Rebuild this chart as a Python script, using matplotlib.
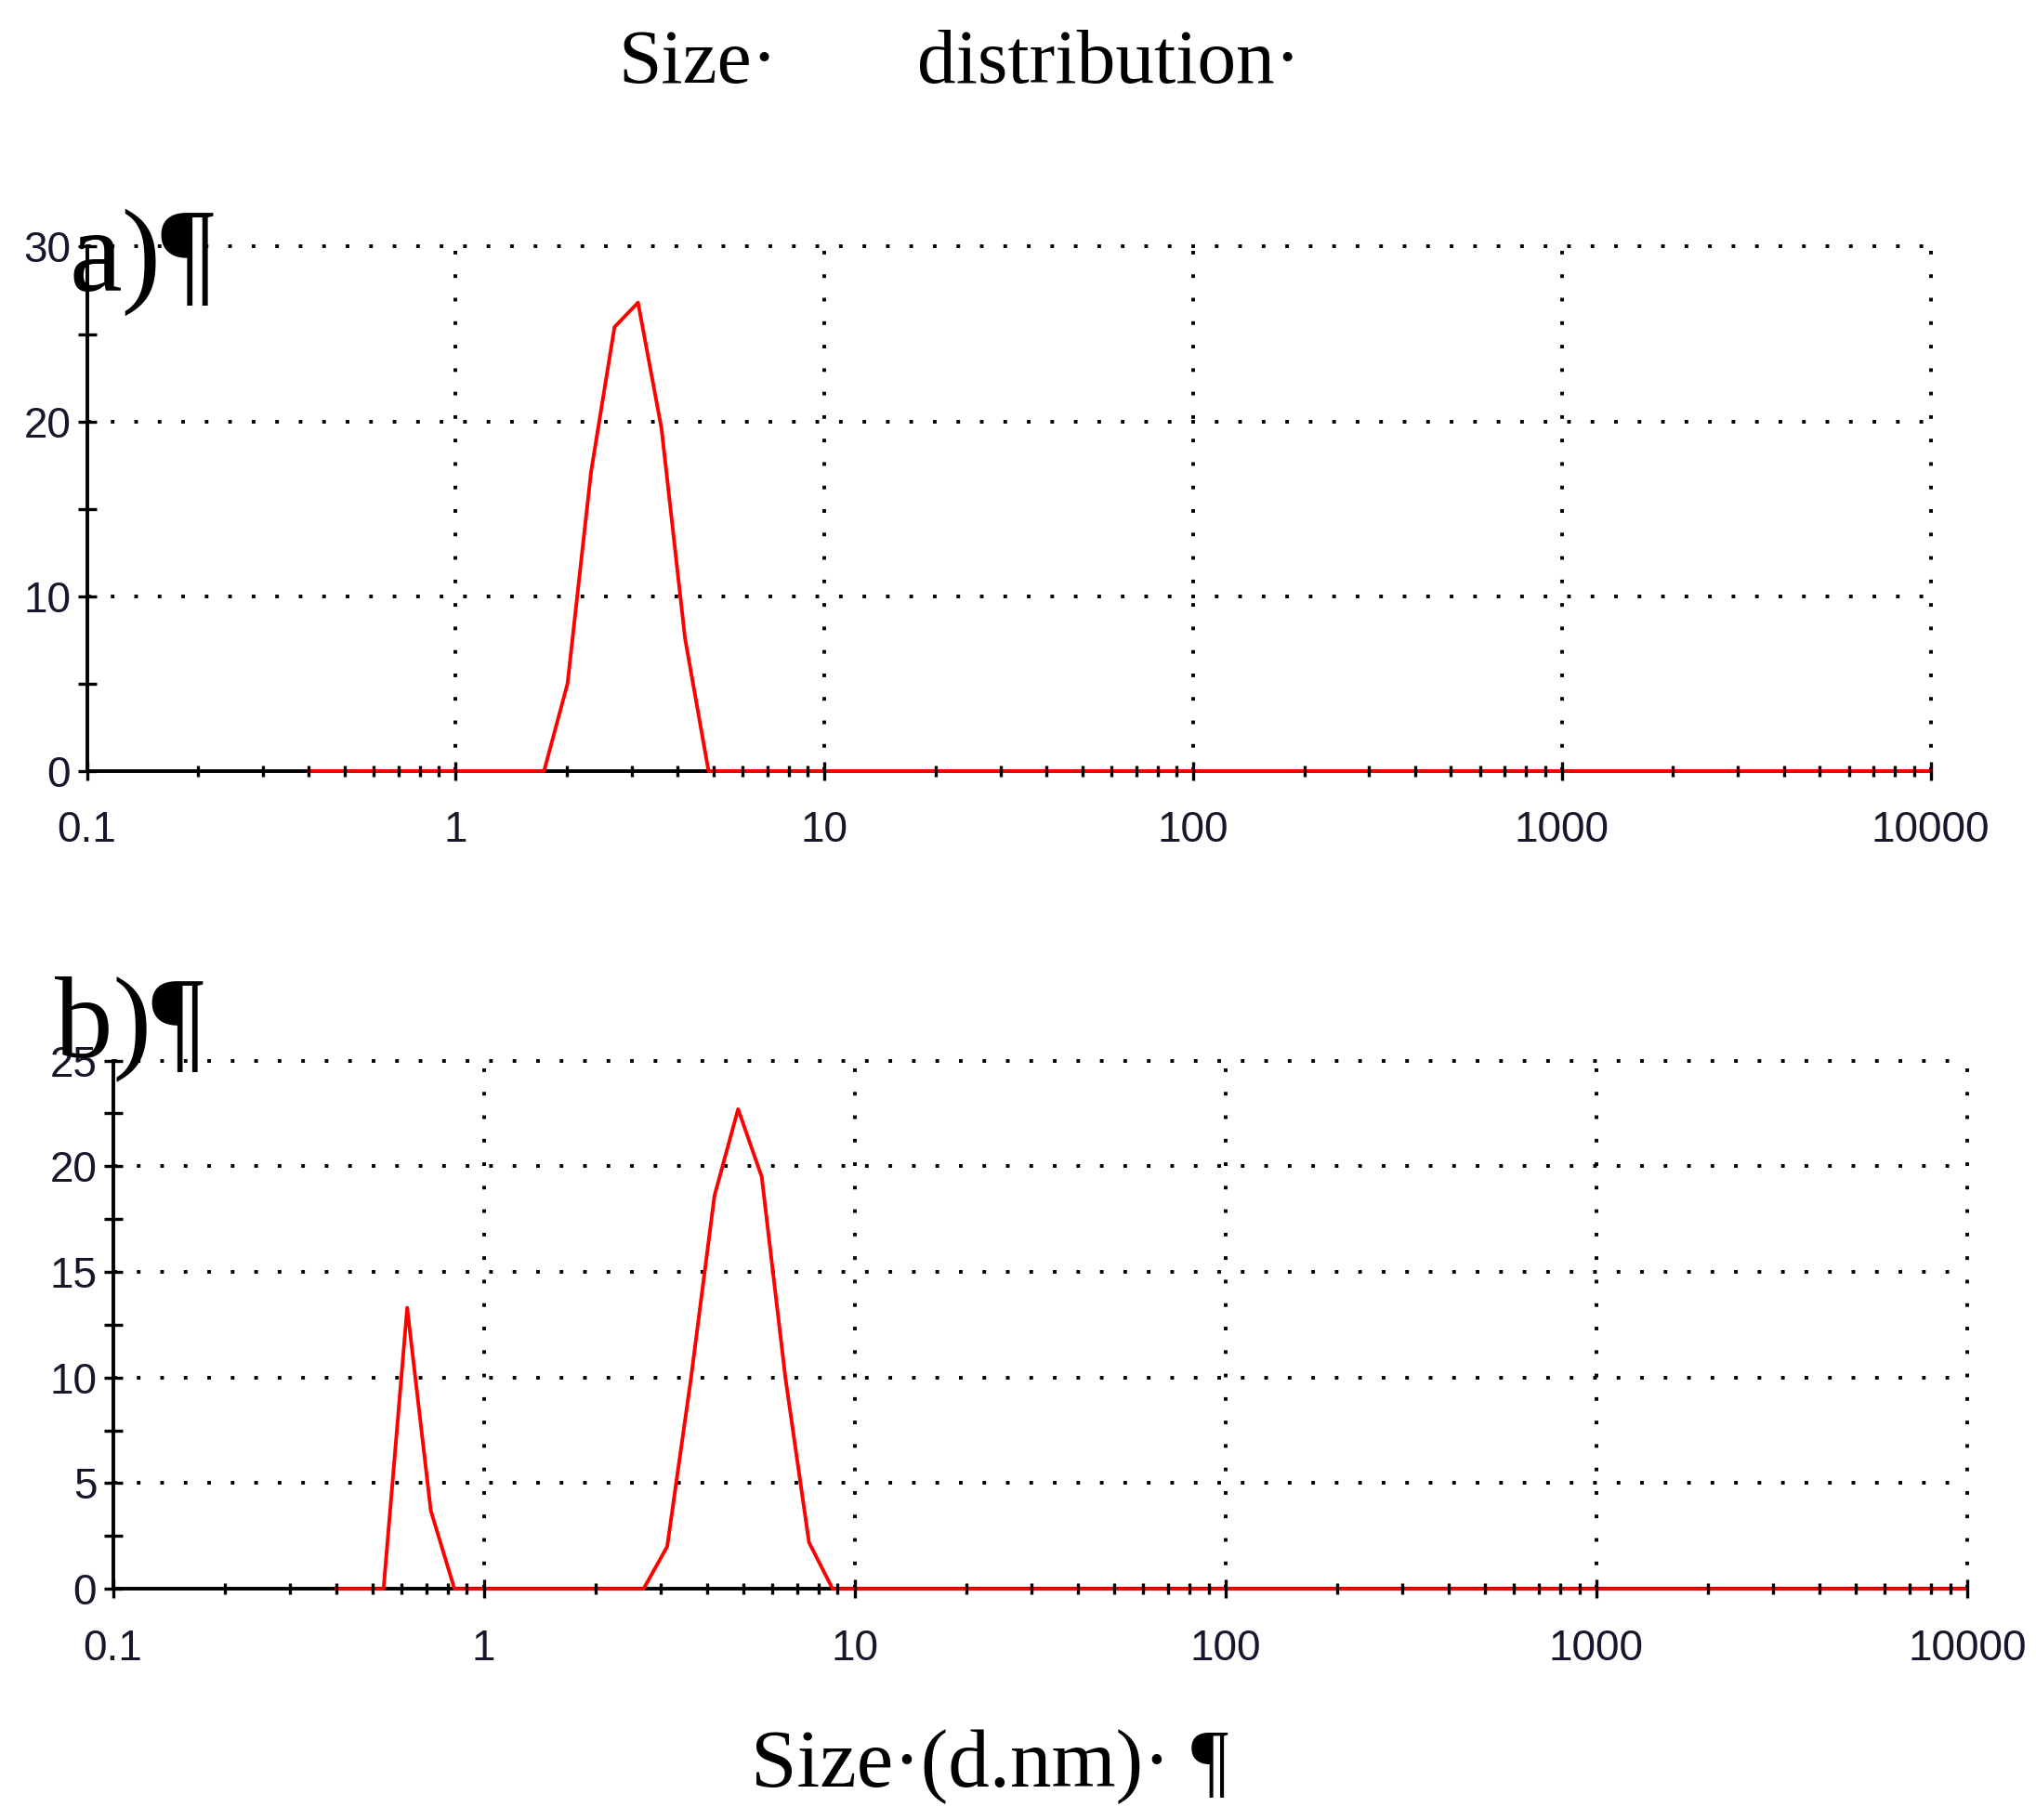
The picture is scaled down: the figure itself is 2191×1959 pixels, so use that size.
import matplotlib
matplotlib.use("Agg")
import matplotlib.pyplot as plt
from matplotlib.ticker import (FixedLocator, FixedFormatter, LogLocator,
                               MultipleLocator, NullFormatter)

# ---- data (Malvern size bins, d.nm) ----
sizes_nm = [0.4000, 0.4632, 0.5365, 0.6213, 0.7195, 0.8332, 0.9649, 1.117, 1.295, 1.499,
            1.736, 2.010, 2.328, 2.696, 3.122, 3.615, 4.187, 4.849, 5.615, 6.503,
            7.531, 8.721, 10.10, 11.70, 13.54, 15.69, 18.17, 21.04, 24.36, 28.21,
            32.67, 37.84, 43.82, 50.75, 58.77, 68.06, 78.82, 91.28, 105.7, 122.4,
            141.8, 164.2, 190.1, 220.2, 255.0, 295.3, 342.0, 396.1, 458.7, 531.2,
            615.1, 712.4, 825.0, 955.4, 1106, 1281, 1484, 1718, 1990, 2305,
            2669, 3091, 3580, 4145, 4801, 5560, 6439, 7456, 8635, 10000]

intensity_a = [0, 0, 0, 0, 0, 0, 0, 0, 0, 0,
               0, 5.0, 17.1, 25.4, 26.8, 19.6, 7.6, 0, 0, 0,
               0, 0, 0, 0, 0, 0, 0, 0, 0, 0,
               0, 0, 0, 0, 0, 0, 0, 0, 0, 0,
               0, 0, 0, 0, 0, 0, 0, 0, 0, 0,
               0, 0, 0, 0, 0, 0, 0, 0, 0, 0,
               0, 0, 0, 0, 0, 0, 0, 0, 0, 0]

intensity_b = [0, 0, 0, 13.3, 3.7, 0, 0, 0, 0, 0,
               0, 0, 0, 0, 2.0, 9.9, 18.6, 22.7, 19.5, 10.0,
               2.2, 0, 0, 0, 0, 0, 0, 0, 0, 0,
               0, 0, 0, 0, 0, 0, 0, 0, 0, 0,
               0, 0, 0, 0, 0, 0, 0, 0, 0, 0,
               0, 0, 0, 0, 0, 0, 0, 0, 0, 0,
               0, 0, 0, 0, 0, 0, 0, 0, 0, 0]

x_tick_values = [0.1, 1, 10, 100, 1000, 10000]
x_tick_labels = ["0.1", "1", "10", "100", "1000", "10000"]
y_ticks_a = [0, 10, 20, 30]
y_ticks_b = [0, 5, 10, 15, 20, 25]

TICK_FONT = ["Liberation Sans Narrow", "Liberation Sans", "DejaVu Sans"]
SERIF = ["Liberation Serif", "DejaVu Serif"]
LABEL_COLOR = "#16162c"
GRID_LS = (0, (1, 5.5))

fig = plt.figure(figsize=(21.91, 19.59), dpi=100)


def make_panel(rect, values, yticks, yminor):
    ax = fig.add_axes(rect)
    ax.set_xscale("log")
    ax.set_xlim(x_tick_values[0], x_tick_values[-1])
    ax.set_ylim(yticks[0], yticks[-1])
    ax.set_axisbelow(False)
    for s in ("top", "right"):
        ax.spines[s].set_visible(False)
    for s in ("left", "bottom"):
        ax.spines[s].set_linewidth(2.8)
        ax.spines[s].set_color("black")
        ax.spines[s].set_zorder(2)

    ax.xaxis.set_major_locator(FixedLocator(x_tick_values))
    ax.xaxis.set_major_formatter(FixedFormatter(x_tick_labels))
    ax.xaxis.set_minor_locator(LogLocator(base=10, subs=(2, 3, 4, 5, 6, 7, 8, 9), numticks=30))
    ax.xaxis.set_minor_formatter(NullFormatter())
    ax.yaxis.set_major_locator(FixedLocator(yticks))
    ax.yaxis.set_minor_locator(MultipleLocator(yminor))

    ax.tick_params(axis="x", which="major", direction="inout", length=15, width=2.4,
                   pad=23, labelsize=33, labelcolor=LABEL_COLOR)
    ax.tick_params(axis="x", which="minor", direction="inout", length=9, width=2.4)
    ax.tick_params(axis="y", which="both", direction="inout", length=15, width=2.4,
                   pad=5, labelsize=33, labelcolor=LABEL_COLOR)
    for lab in ax.get_xticklabels() + ax.get_yticklabels():
        lab.set_family(TICK_FONT)

    # dotted grid (drawn unclipped so edge lines show fully)
    for xv in x_tick_values[1:]:
        ax.axvline(xv, color="black", lw=2.8, ls=GRID_LS, clip_on=False, zorder=1)
    for yv in yticks[1:]:
        ax.axhline(yv, color="black", lw=2.8, ls=GRID_LS, clip_on=False, zorder=1)

    ax.plot(sizes_nm, values, color="#ff0000", lw=2.8, clip_on=False, zorder=2.2)
    return ax


ax_a = make_panel([0.0427, 0.5763, 0.9056, 0.2882], intensity_a, y_ticks_a, 5)
ax_b = make_panel([0.0555, 0.1270, 0.9107, 0.2903], intensity_b, y_ticks_b, 2.5)

# texts
fig.text(0.3035, 0.9546, "Size·", family=SERIF, fontsize=60, color="black",
         ha="left", va="baseline")
fig.text(0.4505, 0.9546, "distribution·", family=SERIF, fontsize=60, color="black",
         ha="left", va="baseline")
fig.text(0.0338, 0.8405, "a)¶", family=SERIF, fontsize=92, color="black",
         ha="left", va="baseline", zorder=5)
fig.text(0.0268, 0.4195, "b)¶", family=SERIF, fontsize=90, color="black",
         ha="left", va="baseline", zorder=5)
fig.text(0.3688, 0.0184, "Size·(d.nm)· ¶", family=SERIF, fontsize=64, color="black",
         ha="left", va="baseline")

fig.savefig("out.png", dpi=100, facecolor="white")
